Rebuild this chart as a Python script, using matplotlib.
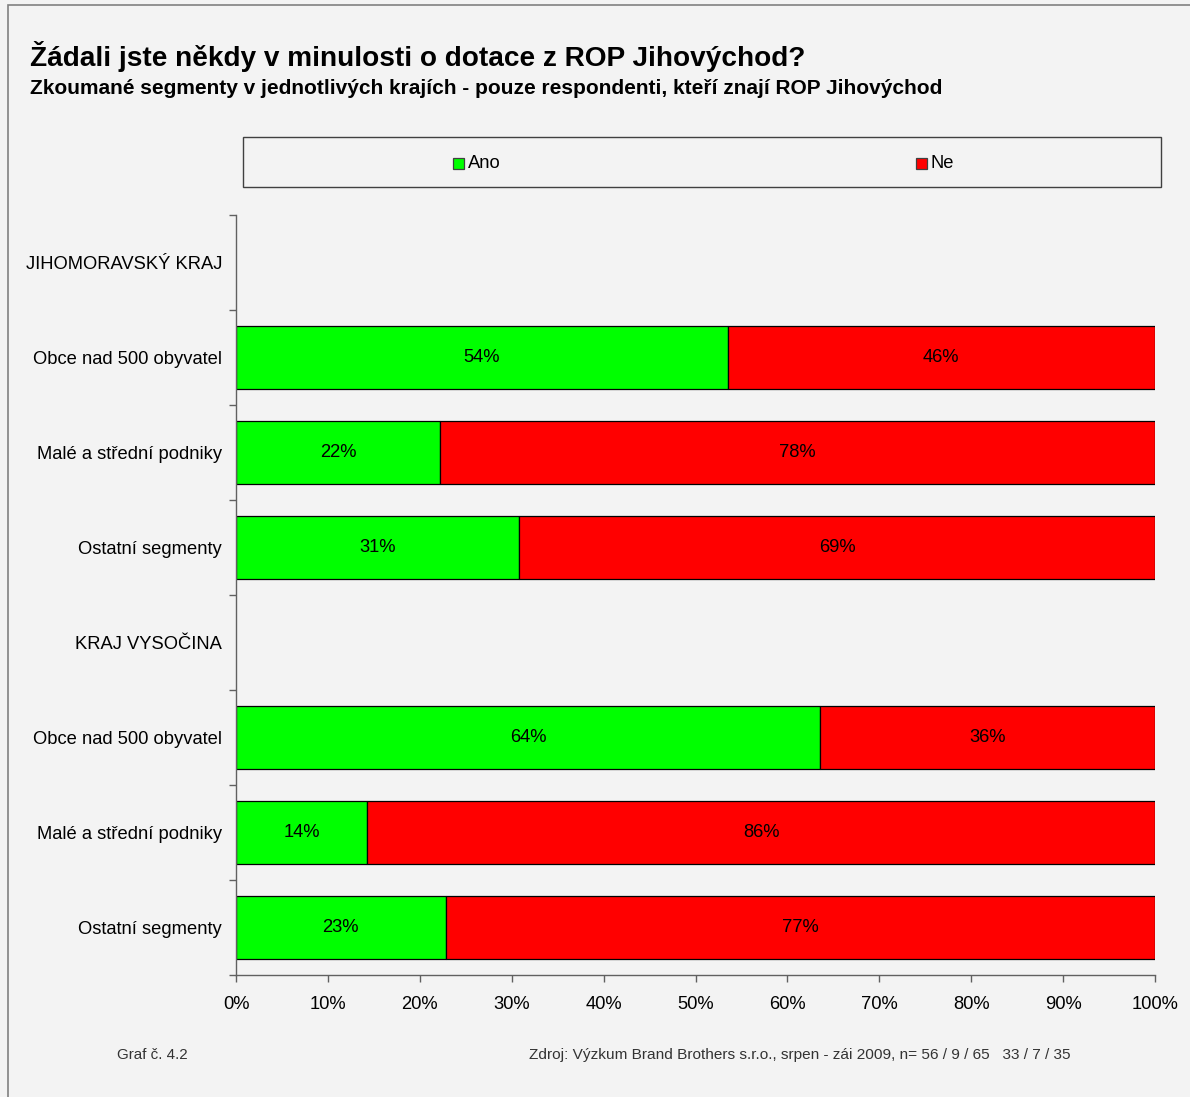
import numpy as np
import matplotlib.pyplot as plt
from matplotlib.patches import Rectangle

plt.rcParams['font.family'] = ['Liberation Sans', 'DejaVu Sans']

categories = ["JIHOMORAVSKÝ KRAJ", "Obce nad 500 obyvatel", "Malé a střední podniky",
              "Ostatní segmenty", "KRAJ VYSOČINA", "Obce nad 500 obyvatel",
              "Malé a střední podniky", "Ostatní segmenty"]
ano = [np.nan, 53.5, 22.2, 30.8, np.nan, 63.6, 14.3, 22.8]
ne = [np.nan, 46.5, 77.8, 69.2, np.nan, 36.4, 85.7, 77.2]
ano_labels = ["", "54%", "22%", "31%", "", "64%", "14%", "23%"]
ne_labels = ["", "46%", "78%", "69%", "", "36%", "86%", "77%"]
series_names = ["Ano", "Ne"]
colors = ["#00ff00", "#ff0000"]
xticks = list(range(0, 101, 10))

bg = "#f3f3f3"
fs = 13.2
fig = plt.figure(figsize=(11.9, 10.97), dpi=100, facecolor=bg)
ax = fig.add_axes([236 / 1190, 1 - 975 / 1097, 919 / 1190, 760 / 1097])
ax.set_facecolor(bg)

# outer frame
fig.patches.append(Rectangle((8 / 1190, -0.01), 1.1, 1 - 5 / 1097 + 0.01, transform=fig.transFigure,
                             fill=False, edgecolor="#808080", linewidth=1.2))

y = np.arange(len(categories))
h = 0.67
ano_v = np.array(ano)
ne_v = np.array(ne)
ax.barh(y, ano_v, height=h, color=colors[0], edgecolor="black", linewidth=0.9)
ax.barh(y, ne_v, left=ano_v, height=h, color=colors[1], edgecolor="black", linewidth=0.9)

for i in range(len(categories)):
    if np.isnan(ano_v[i]):
        continue
    ax.text(ano_v[i] / 2, y[i], ano_labels[i], ha="center", va="center", fontsize=fs)
    ax.text(ano_v[i] + ne_v[i] / 2, y[i], ne_labels[i], ha="center", va="center", fontsize=fs)

ax.set_xlim(0, 100)
ax.set_ylim(len(categories) - 0.5, -0.5)
ax.set_yticks(y)
ax.set_yticklabels(categories, fontsize=fs)
ax.tick_params(axis="y", which="major", length=0, pad=10)
ax.set_yticks(np.arange(-0.5, len(categories), 1), minor=True)
ax.tick_params(axis="y", which="minor", length=5, color="#606060", width=1)
ax.set_xticks(xticks)
ax.set_xticklabels([f"{v}%" for v in xticks], fontsize=fs)
ax.tick_params(axis="x", length=5, color="#606060", width=1, pad=10)
for s in ["top", "right"]:
    ax.spines[s].set_visible(False)
for s in ["left", "bottom"]:
    ax.spines[s].set_color("#606060")
    ax.spines[s].set_linewidth(1)

# legend box
fig.patches.append(Rectangle((243 / 1190, 1 - 187 / 1097), 918 / 1190, 50 / 1097,
                             transform=fig.transFigure, fill=False, edgecolor="#404040", linewidth=1))
ly = 1 - 163 / 1097
for name, col, lx in zip(series_names, colors, [453, 916]):
    fig.patches.append(Rectangle((lx / 1190, ly - 5.5 / 1097), 11 / 1190, 11 / 1097,
                                 transform=fig.transFigure, facecolor=col, edgecolor="#404040", linewidth=0.9))
    fig.text((lx + 15) / 1190, ly, name, ha="left", va="center", fontsize=fs)

fig.text(30 / 1190, 1 - 57 / 1097, "Žádali jste někdy v minulosti o dotace z ROP Jihovýchod?",
         fontsize=20.2, fontweight="bold", va="center")
fig.text(30 / 1190, 1 - 89 / 1097,
         "Zkoumané segmenty v jednotlivých krajích - pouze respondenti, kteří znají ROP Jihovýchod",
         fontsize=15, fontweight="bold", va="center")
fig.text(117 / 1190, 1 - 1055 / 1097, "Graf č. 4.2", fontsize=10.9, color="#333333", va="center")
fig.text(529 / 1190, 1 - 1055 / 1097,
         "Zdroj: Výzkum Brand Brothers s.r.o., srpen - zái 2009, n= 56 / 9 / 65   33 / 7 / 35",
         fontsize=11.1, color="#333333", va="center")

fig.savefig("out.png", dpi=100, facecolor=bg)
